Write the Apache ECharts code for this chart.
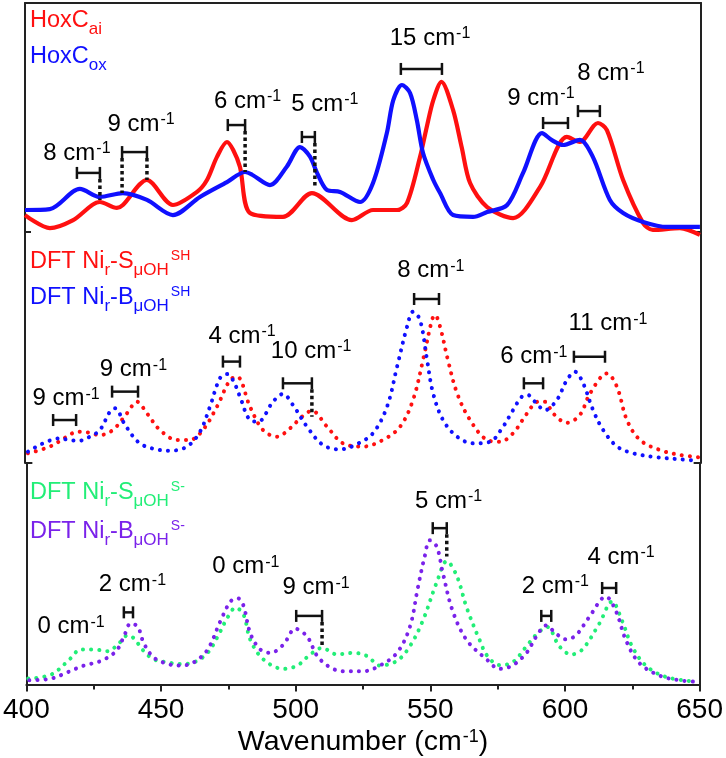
<!DOCTYPE html>
<html><head><meta charset="utf-8">
<script src="https://cdn.jsdelivr.net/npm/echarts@6/dist/echarts.min.js"></script>
<style>html,body{margin:0;padding:0;background:#fff}#c{width:726px;height:758px}</style>
</head><body><div id="c"></div>
<script>
// ---------- data (wavenumber, relative intensity 0..100 per panel) ----------
const X_MIN = 400, X_MAX = 650, X_STEP = 50;

const topRed = [[400,7.4],[409.2,1.7],[417.8,5.2],[427.7,13.1],[434,10.5],[436.2,11.8],[445.1,22.7],[454.7,11.8],[463.6,17.5],[467.3,22.7],[471,32.8],[474.7,39.3],[477,35.8],[479.5,28.4],[483.2,8.3],[495.4,6.6],[506.1,17.0],[520.9,5.2],[528.7,9.6],[537.6,9.6],[541.3,12.7],[546.1,32.8],[548.6,46],[551,57.6],[554,65.6],[558.3,53.3],[561.5,37],[564.6,21.4],[570.9,10.9],[580.5,6.1],[590.5,19.7],[600.4,41.5],[605.2,39.3],[611.9,47.6],[615.2,44.5],[621.2,22.7],[628.6,3.9],[632.2,0.9],[642.2,1.7],[649.6,-1.3]];
const topBlue = [[400,9.6],[409.2,10.0],[420.3,18.8],[427.7,15.3],[436.2,17.0],[445.1,14.0],[454.7,7.4],[464.7,15.3],[474.7,21.8],[481.4,26.2],[484,25],[490.6,20.5],[496.8,28.5],[501.7,37.1],[505.4,32.9],[508,25.8],[511.7,18.3],[516.5,17.5],[523.9,13.1],[528.7,21.4],[533.8,43.1],[536.2,57.6],[539.4,64.2],[542.4,60.7],[544.9,48.9],[547.2,34.5],[551,22.7],[553.5,17.0],[558.3,7.4],[565.7,6.6],[570.9,8.7],[578.3,11.8],[584.2,25.8],[591.2,43.2],[595,40],[599,38.0],[605.2,40.2],[610,32.8],[616.3,14.0],[621.2,8.3],[628.6,4.4],[637.5,2.2],[649.6,2.2]];

const midRed = [[401.1,4.2],[409.2,7.1],[415.5,11.4],[419.2,13.5],[422.9,13.3],[427.7,12.1],[432.5,14.3],[437.7,21.5],[441.4,26.5],[445.1,21.5],[449.9,14.3],[456.2,10.0],[461.0,10.0],[465.8,14.3],[471.0,24.4],[475.8,35.9],[478.4,37.4],[483.2,24.4],[488.0,14.3],[493.2,11.4],[498.0,15.0],[502.4,20.0],[506.1,22.6],[511.7,15.7],[517.6,8.5],[525.0,7.1],[532.4,10.0],[538.7,15.7],[543.5,27.3],[547.2,44.6],[550.5,61.9],[551.6,64.1],[553.5,59.0],[556.4,44.6],[559.8,30.2],[564.6,18.6],[570.9,10.0],[575.7,9.2],[580.5,12.9],[585.7,21.5],[589.7,26.5],[592.3,26.5],[595.3,21.5],[600.4,17.4],[605.2,20.8],[609.0,30.2],[615.2,38.8],[618.9,33.0],[622.6,18.6],[627.4,10.0],[634.8,5.6],[642.2,3.5],[648.9,2.5]];
const midBlue = [[401.1,4.9],[412.9,10.7],[417.4,9.7],[420.3,9.7],[424.0,11.4],[427.7,14.3],[431.4,22.2],[433.3,23.7],[437.0,16.5],[442.5,8.5],[449.9,5.6],[453.6,5.3],[459.9,7.1],[464.7,13.5],[468.4,24.4],[472.1,36.7],[474.7,38.5],[476.9,35.9],[479.5,28.7],[483.2,18.6],[486.2,17.9],[491.7,26.5],[495.4,29.9],[499.1,25.1],[504.3,15.7],[510.2,7.8],[516.5,5.9],[522.8,8.2],[528.7,12.9],[533.9,24.4],[537.6,41.7],[541.3,59.0],[543.5,65.5],[546.1,61.9],[548.7,44.6],[550.9,30.3],[554.6,18.6],[559.8,11.4],[565.7,8.5],[572.0,9.2],[576.8,15.7],[580.5,22.9],[584.2,29.1],[586.0,29.4],[588.6,26.5],[592.3,22.9],[596.7,27.3],[600.4,35.9],[603.4,39.5],[606.4,34.5],[610.1,22.9],[613.8,14.3],[619.0,7.1],[624.9,4.2],[633.7,2.5],[642.2,1.6],[648.9,1.0]];

const botGreen = [[400.7,2.7],[409.2,4.5],[415.5,10.7],[420.3,15.8],[425.1,15.8],[430.3,15.1],[434.4,18.7],[437.7,22.3],[439.9,20.9],[443.6,15.1],[447.3,11.4],[452.5,10.0],[457.3,9.3],[462.1,10.0],[467.3,14.3],[471.0,21.6],[474.7,30.3],[477.7,34.7],[480.6,31.7],[483.2,20.1],[488.0,11.4],[495.4,7.1],[500.6,8.6],[505.4,13.6],[509.8,16.5],[515.4,13.6],[521.3,14.3],[526.5,12.9],[531.3,8.6],[537.6,10.7],[542.4,17.3],[547.2,28.8],[552.4,46.2],[556.1,55.7],[559.8,49.1],[563.5,34.7],[568.3,20.1],[571.2,12.9],[575.7,8.8],[580.5,10.0],[585.7,17.3],[589.7,23.0],[593.4,26.0],[597.9,17.3],[602.3,13.6],[606.4,15.8],[612.7,27.4],[617.5,37.5],[621.2,28.8],[624.9,17.3],[630.0,8.6],[637.4,3.5],[648.5,1.3]];
const botPurple = [[401.1,2.0],[409.2,2.7],[415.5,5.7],[421.4,8.6],[427.7,10.7],[433.3,15.1],[436.2,21.6],[438.8,27.7],[441.4,26.0],[443.6,18.7],[447.3,12.2],[452.5,9.3],[457.3,8.6],[462.1,10.0],[467.3,15.8],[472.1,28.8],[475.8,37.5],[478.4,39.0],[480.5,36.0],[483.2,23.0],[486.9,15.8],[490.6,14.3],[495.4,18.0],[499.9,25.2],[504.3,21.6],[508.0,12.9],[512.8,7.8],[517.6,6.0],[525.0,6.0],[531.3,8.6],[537.6,14.3],[542.4,26.0],[545.3,43.3],[547.9,57.8],[549.8,65.1],[552.4,62.2],[554.6,50.6],[558.3,33.2],[563.5,20.1],[570.9,11.4],[575.7,7.1],[580.5,8.6],[585.7,14.3],[589.3,21.6],[593.0,26.7],[596.7,23.0],[600.4,20.4],[604.1,22.3],[608.9,30.3],[615.2,39.7],[618.9,33.2],[622.6,20.1],[627.4,10.0],[634.8,4.2],[642.2,2.0],[648.9,1.3]];

// shift annotations: [x1, x2, barY, shift (cm-1), dropLeftToY, dropRightToY, labelX, labelBaselineY]
const topNotes = [
  [419.2, 427.7, 25.8, '8', null, 14.0, 419.2, 30.6],
  [435.9, 445.1, 34.9, '9', 17.0, 22.7, 442.9, 43.2],
  [475.0, 481.4, 46.7, '6', null, 26.2, 482.3, 53.3],
  [502.4, 507.2, 41.5, '5', null, 19.2, 510.9, 52.0],
  [539.0, 554.2, 71.2, '15', null, null, 549.8, 80.8],
  [591.6, 600.8, 47.6, '9', null, null, 590.8, 54.6],
  [604.5, 612.6, 52.8, '8', null, null, 616.7, 65.5]
];
const midNotes = [
  [410.4, 418.9, 18.6, '9', null, null, 415.2, 24.2],
  [432.2, 441.8, 30.9, '9', null, null, 440.1, 36.7],
  [473.2, 479.5, 43.9, '4', null, null, 480.3, 51.1],
  [495.4, 506.1, 34.5, '10', null, 20.0, 505.8, 44.6],
  [543.9, 553.1, 71.0, '8', null, null, 550.1, 79.5],
  [584.5, 591.6, 34.5, '6', null, null, 588.2, 42.1],
  [603.0, 614.5, 46.0, '11', null, null, 615.6, 56.4]
];
const botNotes = [
  [null, null, null, '0', null, null, 416.6, 22.3],
  [436.2, 439.6, 32.6, '2', null, null, 439.4, 41.2],
  [null, null, null, '0', null, null, 481.5, 49.1],
  [500.2, 509.8, 31.0, '9', null, 16.5, 507.6, 39.7],
  [550.9, 556.1, 70.6, '5', null, 57.8, 556.8, 78.8],
  [591.2, 594.9, 31.0, '2', null, null, 596.4, 40.4],
  [613.8, 619.0, 43.6, '4', null, null, 620.8, 53.5]
];

// ---------- styling ----------
const FF = '"Liberation Sans", Arial, Helvetica, sans-serif';
const RED = '#ff1010', BLUE = '#1010ff', GREEN = '#22ee77', PURPLE = '#7a22ea';
const AX = '#222';
const GRIDS = [{top:3,height:229},{top:232,height:231},{top:463,height:230}];

const chart = echarts.init(document.getElementById('c'), null, {renderer:'canvas'});

function yAxes(gi) {
  const base = {gridIndex: gi, type: 'value', min: 0, max: 100, interval: 100,
    axisLine: {show: true, onZero: false, lineStyle: {color: AX, width: 2}},
    axisTick: {show: true, inside: true, length: 6, lineStyle: {color: AX, width: 2}},
    axisLabel: {show: false}, splitLine: {show: false}};
  return [Object.assign({position: 'left'}, base), Object.assign({position: 'right'}, base)];
}

function noteSeries(notes, gi) {
  const noteRich = {
    m: {fontSize: 24, fontFamily: FF, fill: '#000', color: '#000', lineHeight: 30},
    s: {fontSize: 16, fontFamily: FF, fill: '#000', color: '#000', verticalAlign: 'top', lineHeight: 16, padding: [3, 0, 0, 1]}
  };
  return {
    type: 'custom', xAxisIndex: gi, yAxisIndex: gi * 2, silent: true, clip: false, z: 5,
    data: notes.map(n => [n[6], n[7]]),
    renderItem: function (params, api) {
      const n = notes[params.dataIndex];
      const ch = [];
      const blk = {stroke: '#111', lineWidth: 2.5};
      if (n[0] !== null) {
        const a = api.coord([n[0], n[2]]), b = api.coord([n[1], n[2]]);
        ch.push({type: 'line', shape: {x1: a[0], y1: a[1], x2: b[0], y2: b[1]}, style: blk});
        ch.push({type: 'line', shape: {x1: a[0], y1: a[1] - 6, x2: a[0], y2: a[1] + 6}, style: blk});
        ch.push({type: 'line', shape: {x1: b[0], y1: b[1] - 6, x2: b[0], y2: b[1] + 6}, style: blk});
        if (n[4] !== null) {
          const t = api.coord([n[0], n[4]]);
          ch.push({type: 'line', shape: {x1: a[0], y1: a[1] + 6, x2: a[0], y2: t[1]}, style: {stroke: '#111', lineWidth: 3.5, lineDash: [3.5, 3]}});
        }
        if (n[5] !== null) {
          const t = api.coord([n[1], n[5]]);
          ch.push({type: 'line', shape: {x1: b[0], y1: b[1] + 6, x2: b[0], y2: t[1]}, style: {stroke: '#111', lineWidth: 3.5, lineDash: [3.5, 3]}});
        }
      }
      const p = api.coord([n[6], n[7]]);
      ch.push({type: 'text', x: p[0], y: p[1] + 6, style: {
        text: '{m|' + n[3] + ' cm}{s|-1}', rich: noteRich, align: 'center', verticalAlign: 'bottom', fill: '#000'}});
      return {type: 'group', children: ch};
    }
  };
}

function curve(data, color, gi, dotted) {
  return {
    type: 'line', data: data, xAxisIndex: gi, yAxisIndex: gi * 2, showSymbol: false, symbol: 'none',
    smooth: dotted ? 0.35 : 0.3, clip: false, silent: true,
    lineStyle: dotted ? {color: color, width: 4, type: [0.1, 8], cap: 'round'} : {color: color, width: 4.2}
  };
}

function legendText(top, parts, color) {
  return {type: 'text', left: 30, top: top, z: 10, style: {
    text: parts, fill: color,
    rich: {
      m: {fontSize: 23.5, fontFamily: FF, fill: color, color: color, lineHeight: 34},
      b: {fontSize: 17, fontFamily: FF, fill: color, color: color, verticalAlign: 'bottom', lineHeight: 17},
      t: {fontSize: 14, fontFamily: FF, fill: color, color: color, verticalAlign: 'top', lineHeight: 14, padding: [4, 0, 0, 2]}
    }}};
}

const xAxes = GRIDS.map((g, i) => ({
  gridIndex: i, type: 'value', min: X_MIN, max: X_MAX, interval: X_STEP,
  position: i === 0 ? 'top' : 'bottom',
  show: i !== 1,
  axisLine: {show: true, onZero: false, lineStyle: {color: AX, width: 2}},
  axisTick: {show: i === 2, inside: false, length: 7, lineStyle: {color: AX, width: 2}},
  minorTick: {show: i === 2, splitNumber: 2, length: 5, lineStyle: {color: AX, width: 2}},
  axisLabel: {show: i === 2, fontSize: 28, fontFamily: FF, color: '#000', margin: 12},
  splitLine: {show: false},
  name: i === 2 ? '{m|Wavenumber (cm}{s|-1}{m|)}' : '',
  nameLocation: 'middle', nameGap: 38,
  nameTextStyle: {rich: {
    m: {fontSize: 28.5, fontFamily: FF, color: '#000', lineHeight: 34},
    s: {fontSize: 18, fontFamily: FF, color: '#000', verticalAlign: 'top', lineHeight: 18, padding: [3, 0, 0, 1]}
  }}
}));

const yAxesAll = [].concat(yAxes(0), yAxes(1), yAxes(2));

chart.setOption({
  animation: false,
  backgroundColor: '#fff',
  grid: GRIDS.map(g => ({left: 25, right: 25, top: g.top, height: g.height, containLabel: false})),
  xAxis: xAxes,
  yAxis: yAxesAll,
  series: [
    curve(topRed, RED, 0, false),
    curve(topBlue, BLUE, 0, false),
    curve(midRed, RED, 1, true),
    curve(midBlue, BLUE, 1, true),
    curve(botGreen, GREEN, 2, true),
    curve(botPurple, PURPLE, 2, true),
    noteSeries(topNotes, 0),
    noteSeries(midNotes, 1),
    noteSeries(botNotes, 2)
  ],
  graphic: [
    legendText(9, '{m|HoxC}{b|ai}', RED),
    legendText(45, '{m|HoxC}{b|ox}', BLUE),
    legendText(245, '{m|DFT Ni}{b|r}{m|-S}{b|μOH}{t|SH}', RED),
    legendText(281, '{m|DFT Ni}{b|r}{m|-B}{b|μOH}{t|SH}', BLUE),
    legendText(476, '{m|DFT Ni}{b|r}{m|-S}{b|μOH}{t|S-}', GREEN),
    legendText(515, '{m|DFT Ni}{b|r}{m|-B}{b|μOH}{t|S-}', PURPLE)
  ]
});
</script>
</body></html>
